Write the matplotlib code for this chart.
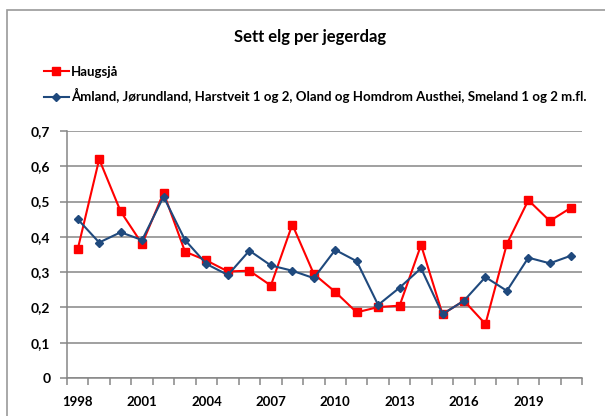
import numpy as np
import matplotlib
matplotlib.use("Agg")
import matplotlib.pyplot as plt
from matplotlib.patches import Rectangle

plt.rcParams["font.family"] = ["Lato", "DejaVu Sans"]

years = list(range(1998, 2022))
haugsja = [0.365, 0.620, 0.472, 0.380, 0.525, 0.358, 0.333, 0.302, 0.304, 0.262,
           0.435, 0.295, 0.244, 0.186, 0.201, 0.205, 0.377, 0.181, 0.219, 0.153,
           0.380, 0.504, 0.445, 0.483]
amland = [0.450, 0.384, 0.413, 0.391, 0.514, 0.391, 0.323, 0.292, 0.361, 0.319,
          0.304, 0.283, 0.363, 0.331, 0.207, 0.256, 0.311, 0.181, 0.219, 0.286,
          0.247, 0.341, 0.325, 0.347]
label_haugsja = "Haugsjå"
label_amland = "Åmland, Jørundland, Harstveit 1 og 2, Oland og Homdrom Austhei, Smeland 1 og 2 m.fl."
yticks = [0, 0.1, 0.2, 0.3, 0.4, 0.5, 0.6, 0.7]

grid_col = "#868686"

fig = plt.figure(figsize=(6.05, 4.16), dpi=100)
# outer chart border (runs off the right and bottom edge)
fig.patches.append(Rectangle((7 / 605, -0.1), 1.2, 1.1 - 10 / 416, transform=fig.transFigure,
                             fill=False, edgecolor="#9a9a9a", linewidth=1.2))

ax = fig.add_axes([67 / 605, 38 / 416, 515 / 605, 247 / 416])
x = np.arange(len(years))
ax.plot(x, haugsja, color="#ff0000", lw=1.5, marker="s", ms=6.3, label=label_haugsja, zorder=3)
ax.plot(x, amland, color="#1f497d", lw=1.5, marker="D", ms=4.2, label=label_amland, zorder=4)

ax.set_xlim(-0.5, len(years) - 0.5)
ax.set_ylim(0, 0.7)
ax.set_yticks(yticks)
ax.set_yticklabels([f"{v:g}".replace(".", ",") for v in yticks], fontsize=10, fontweight="bold")
ax.yaxis.grid(True, color=grid_col, lw=1.1)
ax.set_axisbelow(True)

# category axis: tick marks between categories, labels every third year
ax.set_xticks(np.arange(len(years) + 1) - 0.5)
ax.set_xticklabels([])
ax.set_xticks(x[::3], minor=True)
ax.set_xticklabels([str(y) for y in years[::3]], minor=True, fontsize=9.5, fontweight="bold")
ax.tick_params(axis="x", which="major", length=5, color=grid_col, width=1.1)
ax.tick_params(axis="x", which="minor", length=0, pad=13)
ax.tick_params(axis="y", length=5, color=grid_col, width=1.1, pad=7)

for s in ["top", "right"]:
    ax.spines[s].set_visible(False)
for s in ["left", "bottom"]:
    ax.spines[s].set_color(grid_col)
    ax.spines[s].set_linewidth(1.1)

fig.text(310 / 605, 1 - 37 / 416, "Sett elg per jegerdag", ha="center", va="center",
         fontsize=12, fontweight="bold")

fig.legend(loc="upper left", bbox_to_anchor=(32 / 605, 1 - 54 / 416), frameon=False,
           handlelength=1.9, handletextpad=0.15, labelspacing=0.8,
           prop={"weight": "bold", "size": 9.5})

fig.savefig("out.png", dpi=100)
